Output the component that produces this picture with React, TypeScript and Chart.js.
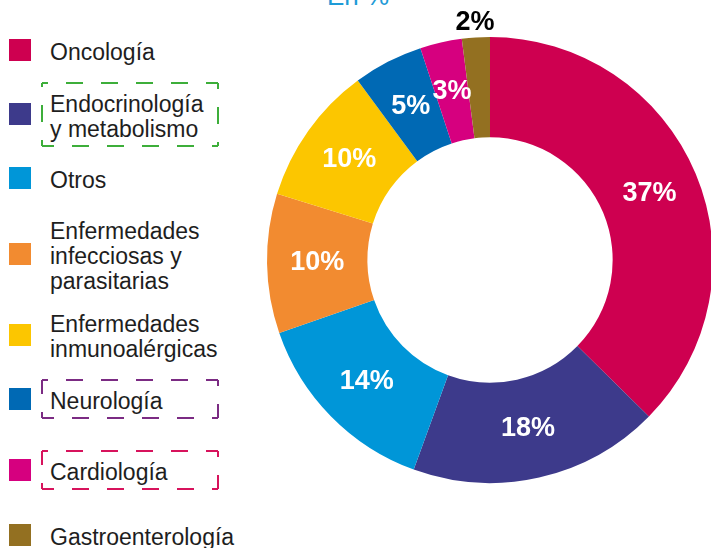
import React, { useEffect, useRef } from "react";
import { Chart, registerables } from "chart.js";

Chart.register(...registerables);

const categories: string[][] = [
  ["Oncología"],
  ["Endocrinología", "y metabolismo"],
  ["Otros"],
  ["Enfermedades", "infecciosas y", "parasitarias"],
  ["Enfermedades", "inmunoalérgicas"],
  ["Neurología"],
  ["Cardiología"],
  ["Gastroenterología"],
];
const values: number[] = [37, 18, 14, 10, 10, 5, 3, 2];
const colors: string[] = [
  "#CE0050",
  "#3D3A8B",
  "#0096D8",
  "#F28B30",
  "#FCC600",
  "#0069B4",
  "#D6007F",
  "#937021",
];
const highlightBoxes: (string | null)[] = [null, "#3DAE3A", null, null, null, "#7B2B83", "#D7135C", null];
const unitLabel = "En %";

// legend layout (square centres, page px)
const legendCenters = [50, 114, 178, 254, 334.5, 399, 470, 534.5];

const FONT = "'Liberation Sans', Arial, Helvetica, sans-serif";

const labelPlugin = {
  id: "sliceLabels",
  afterDatasetsDraw(chart: any) {
    const ctx = chart.ctx;
    const meta = chart.getDatasetMeta(0);
    ctx.save();
    ctx.font = `bold 27px ${FONT}`;
    ctx.textAlign = "center";
    ctx.textBaseline = "middle";
    meta.data.forEach((arc: any, i: number) => {
      const p = arc.getProps(["x", "y", "startAngle", "endAngle", "innerRadius", "outerRadius"], true);
      const mid = (p.startAngle + p.endAngle) / 2;
      const v = values[i];
      const outside = v < 2.5;
      const r = outside ? p.outerRadius + 15 : (p.innerRadius + p.outerRadius) / 2;
      const x = p.x + Math.cos(mid) * r;
      const y = p.y + Math.sin(mid) * r;
      ctx.fillStyle = outside ? "#000000" : "#FFFFFF";
      ctx.fillText(`${v}%`, x, y);
    });
    ctx.restore();
  },
};

function DashedBox({ color, width, height }: { color: string; width: number; height: number }) {
  const dash = "17 18";
  const off = 11;
  const s = 1;
  const common = { stroke: color, strokeWidth: 2, strokeDasharray: dash, strokeDashoffset: off, fill: "none" };
  return (
    <svg width={width} height={height} style={{ position: "absolute", left: 0, top: 0, overflow: "visible" }}>
      <line x1={s} y1={s} x2={width - s} y2={s} {...common} />
      <line x1={width - s} y1={s} x2={width - s} y2={height - s} {...common} />
      <line x1={width - s} y1={height - s} x2={s} y2={height - s} {...common} />
      <line x1={s} y1={height - s} x2={s} y2={s} {...common} />
    </svg>
  );
}

export default function App() {
  const canvasRef = useRef<HTMLCanvasElement | null>(null);

  useEffect(() => {
    if (!canvasRef.current) return;
    const chart = new Chart(canvasRef.current, {
      type: "doughnut",
      data: {
        labels: categories.map((c) => c.join(" ")),
        datasets: [
          {
            data: values,
            backgroundColor: colors,
            borderWidth: 0,
          },
        ],
      },
      options: {
        animation: false,
        responsive: true,
        maintainAspectRatio: false,
        cutout: "55%",
        layout: { padding: { top: 37, left: 27, right: 27, bottom: 65 } },
        plugins: {
          legend: { display: false },
          tooltip: { enabled: false },
        },
      },
      plugins: [labelPlugin],
    });
    return () => chart.destroy();
  }, []);

  return (
    <div
      style={{
        position: "absolute",
        left: 0,
        top: 0,
        width: 711,
        height: 548,
        overflow: "hidden",
        background: "#FFFFFF",
        fontFamily: FONT,
      }}
    >
      <div
        style={{
          position: "absolute",
          left: 327,
          top: -17,
          fontSize: 26,
          lineHeight: "26px",
          color: "#1E9BD7",
          whiteSpace: "nowrap",
        }}
      >
        {unitLabel}
      </div>
      <div style={{ position: "absolute", left: 240, top: 0, width: 500, height: 548 }}>
        <canvas ref={canvasRef} />
      </div>
      {categories.map((lines, i) => {
        const c = legendCenters[i];
        const boxColor = highlightBoxes[i];
        const boxH = lines.length * 25 + 15;
        return (
          <div key={i}>
            <div
              style={{
                position: "absolute",
                left: 9,
                top: c - 11,
                width: 22,
                height: 22,
                background: colors[i],
              }}
            />
            {boxColor && (
              <div style={{ position: "absolute", left: 41, top: c - boxH / 2, width: 178, height: boxH }}>
                <DashedBox color={boxColor} width={178} height={boxH} />
              </div>
            )}
            <div
              style={{
                position: "absolute",
                left: 50,
                top: c - (lines.length * 25) / 2 + 2.5,
                fontSize: 23,
                lineHeight: "25px",
                color: "#1E1E1E",
                whiteSpace: "nowrap",
              }}
            >
              {lines.map((l, j) => (
                <div key={j}>{l}</div>
              ))}
            </div>
          </div>
        );
      })}
    </div>
  );
}
